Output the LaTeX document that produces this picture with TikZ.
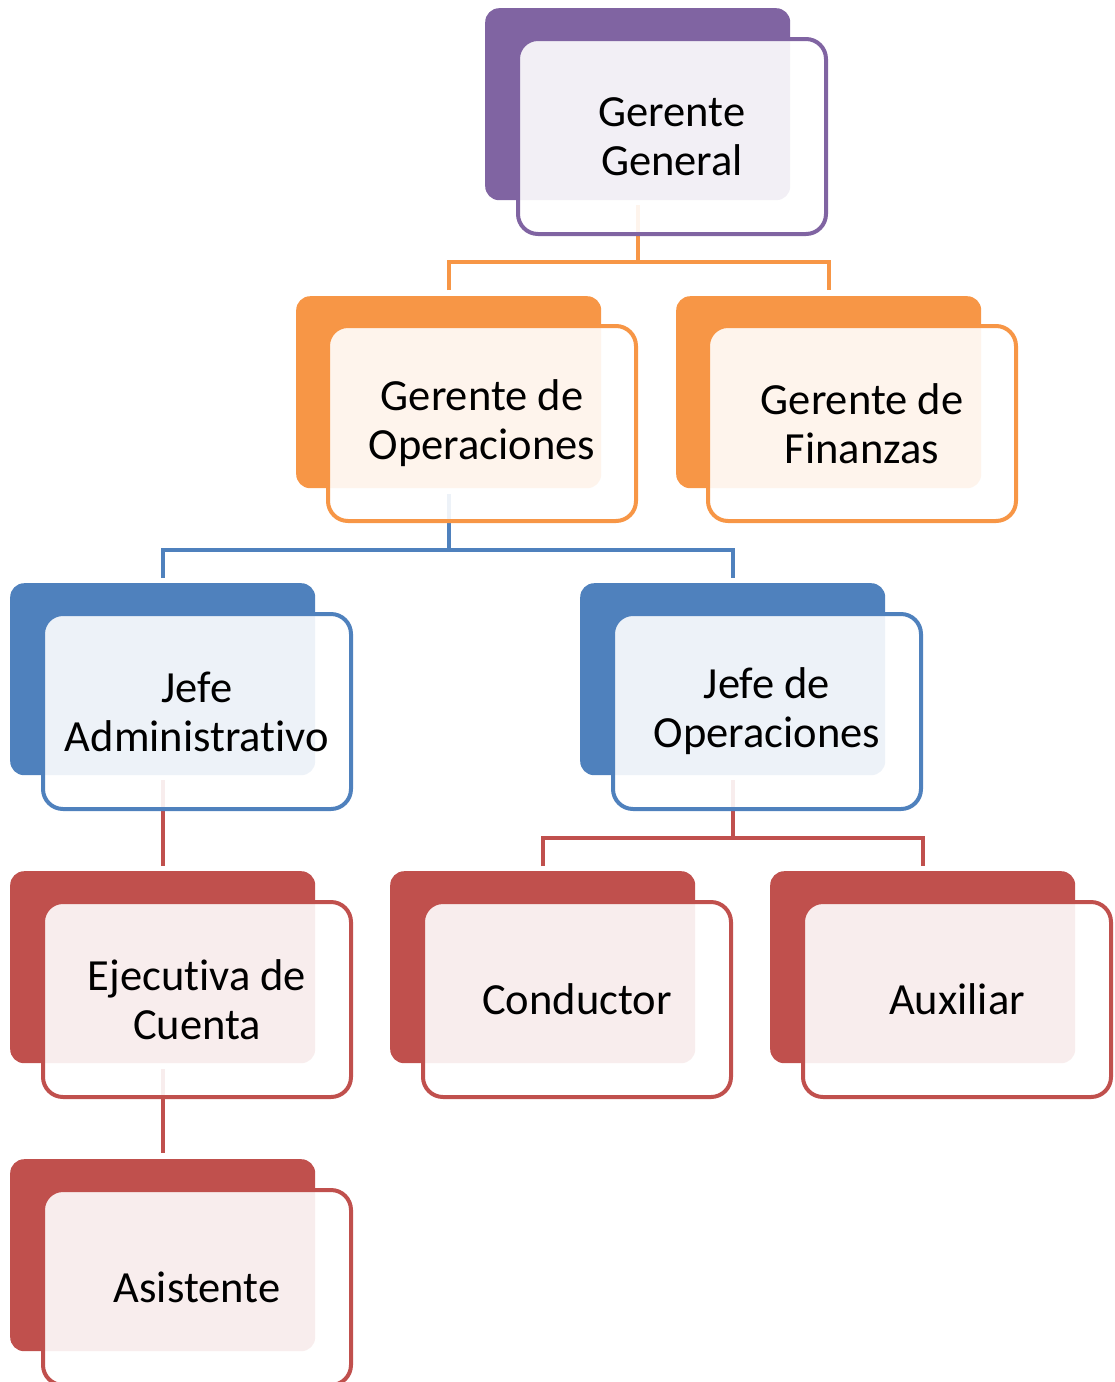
\documentclass[tikz,border=0pt]{standalone}
\usepackage{fontspec}
\setmainfont{Carlito}[Ligatures=NoCommon,RawFeature={-liga;-dlig}]
\definecolor{cpurple}{HTML}{8064A2}
\definecolor{corange}{HTML}{F79646}
\definecolor{cblue}{HTML}{4F81BD}
\definecolor{cred}{HTML}{C0504D}
\tikzset{
  backbox/.style={fill=#1, draw=none, inner sep=0pt, rounded corners=14pt,
    minimum width=305pt, minimum height=192pt, anchor=north west},
  frontbox/.style={fill=white, fill opacity=0.9, text opacity=1, draw=#1, line width=4pt,
    rounded corners=20pt, inner sep=0pt, minimum width=308pt, minimum height=195pt,
    align=center, font=\fontsize{44.5}{49}\selectfont},
  conn/.style={draw=#1, line width=4pt},
}
\begin{document}
\begin{tikzpicture}[x=1pt,y=-1pt]
\useasboundingbox (0,0) rectangle (1115,1382);
\clip (0,0) rectangle (1115,1382);
% back boxes
\node[backbox=cpurple] (gg-b) at (485,8) {};
\node[backbox=corange] (go-b) at (296,296) {};
\node[backbox=corange] (fi-b) at (676,296) {};
\node[backbox=cblue] (ja-b) at (10,583) {};
\node[backbox=cblue] (jo-b) at (580,583) {};
\node[backbox=cred] (ec-b) at (10,871) {};
\node[backbox=cred] (co-b) at (390,871) {};
\node[backbox=cred] (au-b) at (770,871) {};
\node[backbox=cred] (as-b) at (10,1159) {};
% connectors
\coordinate (bus1) at (638,262);
\coordinate (bus2) at (448,550);
\coordinate (bus3) at (733,838);
\draw[conn=corange] ([yshift=-5pt]gg-b.south) -- (gg-b.south |- bus1);
\draw[conn=corange] ([yshift=6pt]go-b.north) |- (bus1) -| ([yshift=6pt]fi-b.north);
\draw[conn=cblue] ([yshift=-6pt]go-b.south) -- (go-b.south |- bus2);
\draw[conn=cblue] ([yshift=5pt]ja-b.north) |- (bus2) -| ([yshift=5pt]jo-b.north);
\draw[conn=cred] ([yshift=-5pt]ja-b.south) -- ([yshift=5pt]ec-b.north);
\draw[conn=cred] ([yshift=-5pt]jo-b.south) -- (jo-b.south |- bus3);
\draw[conn=cred] ([yshift=5pt]co-b.north) |- (bus3) -| ([yshift=5pt]au-b.north);
\draw[conn=cred] ([yshift=-6pt]ec-b.south) -- ([yshift=6pt]as-b.north);
% front boxes
\node[frontbox=cpurple] (gg) at (672,136.5) {Gerente\\General};
\node[frontbox=corange] (go) at (482,423.5) {Gerente de\\Operaciones};
\node[frontbox=corange] (fi) at (862,423.5) {Gerente de\\Finanzas};
\node[frontbox=cblue] (ja) at (197,711.5) {Jefe\\Administrativo};
\node[frontbox=cblue] (jo) at (767,711.5) {Jefe de\\Operaciones};
\node[frontbox=cred] (ec) at (197,999.5) {Ejecutiva de\\Cuenta};
\node[frontbox=cred] (co) at (577,999.5) {Conductor};
\node[frontbox=cred] (au) at (957,999.5) {Auxiliar};
\node[frontbox=cred] (as) at (197,1287.5) {Asistente};
\end{tikzpicture}
\end{document}
